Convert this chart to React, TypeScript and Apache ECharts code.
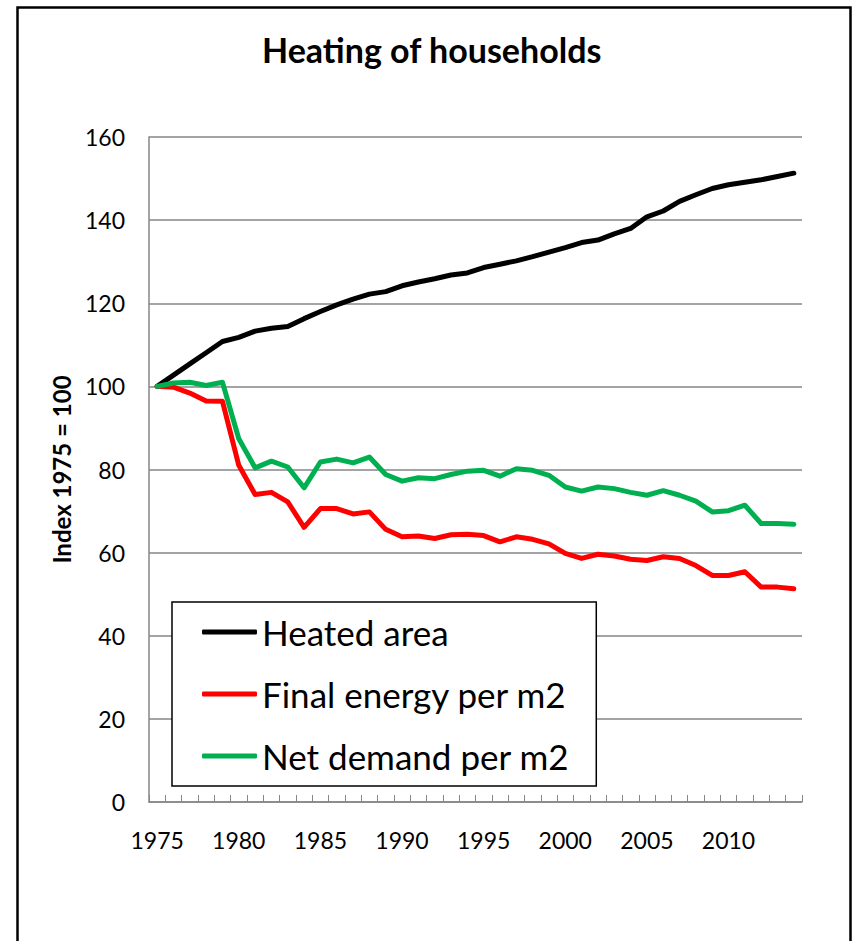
import React, { useEffect, useRef } from "react";
import * as echarts from "echarts";

const years: string[] = [];
for (let y = 1975; y <= 2014; y++) years.push(String(y));

const heatedArea = [
  100, 102.7, 105.4, 108.1, 110.8, 111.8, 113.3, 114.0, 114.4, 116.3,
  118.0, 119.6, 121.0, 122.2, 122.8, 124.2, 125.1, 125.9, 126.8, 127.3,
  128.6, 129.4, 130.2, 131.2, 132.3, 133.4, 134.6, 135.2, 136.7, 138.0,
  140.8, 142.2, 144.5, 146.1, 147.6, 148.5, 149.1, 149.7, 150.5, 151.3,
];
const finalEnergy = [
  100, 99.8, 98.4, 96.5, 96.4, 81.0, 74.0, 74.5, 72.2, 66.1,
  70.6, 70.6, 69.3, 69.8, 65.6, 63.8, 64.0, 63.4, 64.3, 64.4,
  64.1, 62.6, 63.8, 63.2, 62.1, 59.8, 58.6, 59.6, 59.2, 58.4,
  58.1, 59.0, 58.6, 56.9, 54.5, 54.5, 55.4, 51.7, 51.7, 51.3,
];
const netDemand = [
  100, 100.8, 101.0, 100.2, 101.0, 87.4, 80.4, 82.0, 80.6, 75.6,
  81.8, 82.5, 81.6, 83.0, 78.8, 77.2, 78.0, 77.8, 78.8, 79.6,
  79.8, 78.4, 80.2, 79.8, 78.6, 75.8, 74.8, 75.8, 75.4, 74.5,
  73.8, 74.9, 73.8, 72.4, 69.8, 70.1, 71.4, 67.0, 67.0, 66.8,
];
const seriesNames = ["Heated area", "Final energy per m2", "Net demand per m2"];
const seriesColors = ["#000000", "#FF0000", "#00B050"];

const FONT = "Lato, 'Noto Sans', sans-serif";

export default function App() {
  const ref = useRef<HTMLDivElement>(null);
  useEffect(() => {
    if (!ref.current) return;
    const chart = echarts.init(ref.current, undefined, { renderer: "svg" });
    const data = [heatedArea, finalEnergy, netDemand];
    chart.setOption({
      animation: false,
      backgroundColor: "#ffffff",
      textStyle: { fontFamily: FONT },
      title: {
        text: "Heating of households",
        left: 262,
        top: 32,
        padding: 0,
        textStyle: { fontFamily: FONT, fontWeight: "bold", fontSize: 34, color: "#000" },
      },
      graphic: [
        {
          type: "rect",
          shape: { x: 17.5, y: 7.5, width: 833, height: 980 },
          style: { fill: "none", stroke: "#000", lineWidth: 2.5 },
          silent: true,
          z: 100,
        },
      ],
      grid: { left: 149, top: 137, right: 50, bottom: 139, containLabel: false },
      legend: {
        orient: "vertical",
        left: 172,
        top: 602,
        padding: [10, 27, 10, 30],
        icon: "roundRect",
        itemWidth: 55,
        itemHeight: 5,
        itemGap: 22,
        backgroundColor: "#ffffff",
        borderColor: "#000000",
        borderWidth: 1.5,
        borderRadius: 0,
        data: seriesNames,
        textStyle: { fontFamily: FONT, fontSize: 35, color: "#000", lineHeight: 40 },
        z: 10,
      },
      xAxis: {
        type: "category",
        data: years,
        boundaryGap: true,
        axisLine: { lineStyle: { color: "#868686", width: 1.5 } },
        axisTick: { show: true, inside: true, length: 7, interval: 0, lineStyle: { color: "#868686" } },
        axisLabel: { interval: 4, color: "#000", fontSize: 23, fontFamily: FONT, margin: 26 },
        splitLine: { show: false },
      },
      yAxis: {
        type: "value",
        min: 0,
        max: 160,
        interval: 20,
        name: "Index 1975 = 100",
        nameLocation: "middle",
        nameRotate: 90,
        nameGap: 76,
        nameTextStyle: { fontFamily: FONT, fontWeight: "bold", fontSize: 24, color: "#000" },
        axisLine: { show: true, lineStyle: { color: "#868686", width: 1.5 } },
        axisTick: { show: false },
        axisLabel: { color: "#000", fontSize: 23, fontFamily: FONT, margin: 24 },
        splitLine: { show: true, lineStyle: { color: "#868686", width: 1.5 } },
      },
      series: seriesNames.map((name, i) => ({
        name,
        type: "line",
        data: data[i],
        symbol: "none",
        showSymbol: false,
        lineStyle: { color: seriesColors[i], width: 5, cap: "round", join: "round" },
        itemStyle: { color: seriesColors[i] },
      })),
    });
    return () => chart.dispose();
  }, []);
  return (
    <div
      ref={ref}
      style={{ position: "fixed", left: 0, top: 0, width: 852, height: 941 }}
    />
  );
}
